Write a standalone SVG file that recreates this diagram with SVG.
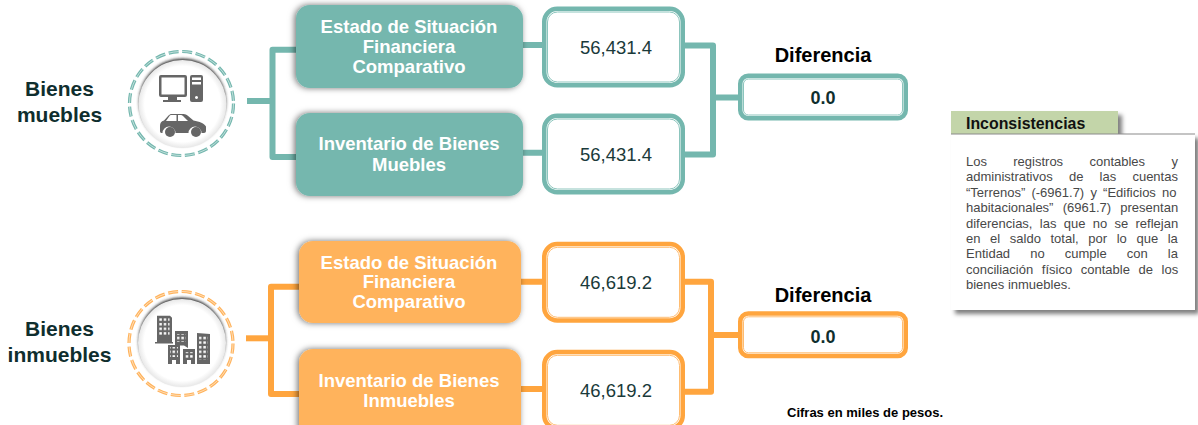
<svg xmlns="http://www.w3.org/2000/svg" width="1198" height="425" viewBox="0 0 1198 425">
<style>
text{font-family:"Liberation Sans",Arial,sans-serif}
.title{font-size:21px;font-weight:700;fill:#0f2e2e;text-anchor:middle}
.node{font-size:18.5px;font-weight:700;fill:#fff;text-anchor:middle}
.val{font-size:18.5px;fill:#1a3a3a;text-anchor:middle}
.dif{font-size:20px;font-weight:700;fill:#000;text-anchor:middle}
.zero{font-size:18px;font-weight:700;fill:#0f2e2e;text-anchor:middle}
.body{font-size:13px;fill:#484848}
.con{fill:none;stroke-width:6;stroke-linejoin:round;stroke-linecap:butt}
.t{stroke:#74b7ae}.o{stroke:#ffa53e}
.ft{fill:#74b7ae}.fo{fill:#ffb35c}
.box{fill:#fff;stroke-width:4.5}
.inner{fill:none;stroke-width:1}
.ti{stroke:#8cc5bd}.oi{stroke:#ffbc70}
.dash{fill:none;stroke-width:3.2;stroke-dasharray:10 3.63}
.dashw{fill:none;stroke:#fff;stroke-width:.7;stroke-dasharray:10 3.63;opacity:.8}
.ic{fill:#666}
</style>
<defs>
<filter id="sh" x="-10%" y="-20%" width="120%" height="140%"><feDropShadow dx="-1.5" dy="0" stdDeviation="3" flood-color="#000" flood-opacity=".55"/></filter>
<filter id="psh" x="-5%" y="-5%" width="112%" height="115%"><feDropShadow dx="4" dy="4" stdDeviation="2" flood-color="#000" flood-opacity=".5"/></filter>
<filter id="bl" x="-20%" y="-20%" width="140%" height="140%"><feGaussianBlur stdDeviation="1.5"/></filter>
<radialGradient id="disc"><stop offset="0" stop-color="#fff"/><stop offset=".86" stop-color="#fff"/><stop offset="1" stop-color="#e8e8e8"/></radialGradient>
<pattern id="win" width="4.4" height="4.6" patternUnits="userSpaceOnUse"><rect x="1" y="1" width="2.4" height="2.4" fill="#fff"/></pattern>
</defs>
<g id="connectors">
<path class="con t" d="M296 49.7H272.500V157H296"/>
<path class="con t" d="M272.500 101H247" stroke-linecap="round"/>
<path class="con t" d="M522 45H542M522 152.700H542"/>
<path class="con t" d="M685 45.500H713V154.500H685M713 97.500H738"/>
<path class="con o" d="M299 286.700H271V394H299"/>
<path class="con o" d="M271 338.300H246" stroke-linecap="round"/>
<path class="con o" d="M521 281.700H542M521 389H542"/>
<path class="con o" d="M685 281.700H711V391.700H685M711 335H738"/>
</g>
<g id="bienes-muebles"><text class="title" x="59.500" y="96">Bienes</text><text class="title" x="59.500" y="122">muebles</text></g>
<g id="icono-muebles">
<circle class="dash t" cx="181.500" cy="103.500" r="52"/><circle class="dashw" cx="181.500" cy="103.500" r="52"/>
<circle cx="182.500" cy="102" r="43.500" fill="#333" filter="url(#bl)"/>
<circle cx="182.500" cy="104" r="44" fill="url(#disc)"/>
<path class="ic" fill-rule="evenodd" d="M159 77a2 2 0 0 1 2-2h24a2 2 0 0 1 2 2v18a2 2 0 0 1-2 2h-8v3h4v2h-18v-2h5v-3h-7a2 2 0 0 1-2-2zM161.500 77.500v17h23v-17z"/>
<path class="ic" fill-rule="evenodd" d="M190 77a2 2 0 0 1 2-2h9a2 2 0 0 1 2 2v23a2 2 0 0 1-2 2h-9a2 2 0 0 1-2-2zM192 77.500v2.500h9v-2.500zM192 82v2.500h9v-2.500zM196.500 96a1.500 1.500 0 1 0 .01 0z"/>
<path class="ic" fill-rule="evenodd" d="M160 126c0-3 1-4.500 4-5.500l4.500-5c.8-.8 2-1.500 3-1.500h12c2 0 3 1 4 1.500l6 5c6 1 11 3 12.500 6v4.500c0 1-1 2-2 2h-2.500a6.500 6.500 0 0 0-13 0h-13a6.500 6.500 0 0 0-13 0h-1c-1 0-1.500-1-1.500-2zM166 121h10.500v-6h-5c-1 0-1.500.3-2 1zM178 115v6h10l-5-5c-.7-.7-1.500-1-2-1z"/>
<circle class="ic" cx="170" cy="132" r="5"/><circle class="ic" cx="196" cy="132" r="5"/>
</g>
<g id="estado-muebles"><rect class="ft" x="296" y="5" width="227" height="83" rx="14" filter="url(#sh)"/>
<text class="node" x="409" y="33">Estado de Situación</text><text class="node" x="409" y="53">Financiera</text><text class="node" x="409" y="73">Comparativo</text></g>
<g id="inventario-muebles"><rect class="ft" x="296" y="113" width="227" height="83" rx="14" filter="url(#sh)"/>
<text class="node" x="409" y="150">Inventario de Bienes</text><text class="node" x="409" y="171">Muebles</text></g>
<g id="valor-m1"><rect class="box t" x="544.250" y="8.750" width="138.500" height="76.500" rx="13"/><rect class="inner ti" x="547.500" y="12" width="132" height="70" rx="10"/><text class="val" x="616" y="54">56,431.4</text></g>
<g id="valor-m2"><rect class="box t" x="544.250" y="115.750" width="138.500" height="76.500" rx="13"/><rect class="inner ti" x="547.500" y="119" width="132" height="70" rx="10"/><text class="val" x="616" y="161">56,431.4</text></g>
<g id="diferencia-m"><text class="dif" x="823" y="62">Diferencia</text><rect class="box t" x="740.250" y="75.750" width="165.500" height="42.500" rx="8"/><rect class="inner ti" x="743.500" y="79" width="159" height="36" rx="5"/><text class="zero" x="823" y="104">0.0</text></g>

<g id="bienes-inmuebles"><text class="title" x="59.500" y="336">Bienes</text><text class="title" x="59.500" y="361.700">inmuebles</text></g>
<g id="icono-inmuebles">
<circle class="dash o" cx="181" cy="343.500" r="52" style="stroke:#ffb35c"/><circle class="dashw" cx="181" cy="343.500" r="52"/>
<circle cx="182" cy="341" r="43.500" fill="#333" filter="url(#bl)"/>
<circle cx="182" cy="343" r="44" fill="url(#disc)"/>
<g class="ic">
<path d="M157 315.700h13l2 2v24.300h1v1.500h-18v-1.500h2z"/><path d="M175 331h13v17l-4-2.500h-9z"/><path d="M197 333l13 1v30h-13z"/><path d="M168 345h12v19h-4v-4h-4v4h-4z"/><path d="M183 349h12v15h-4v-4h-4v4h-4z"/>
</g>
<rect x="158.500" y="318" width="11" height="18" fill="url(#win)"/><rect x="177" y="334" width="9" height="8" fill="url(#win)"/><rect x="199" y="336" width="9" height="24" fill="url(#win)"/><rect x="170" y="347" width="8" height="10" fill="url(#win)"/><rect x="185" y="352" width="8" height="6" fill="url(#win)"/>
</g>
<g id="estado-inmuebles"><rect class="fo" x="299" y="241" width="222" height="82" rx="14" filter="url(#sh)"/>
<text class="node" x="409" y="268.500">Estado de Situación</text><text class="node" x="409" y="288">Financiera</text><text class="node" x="409" y="308">Comparativo</text></g>
<g id="inventario-inmuebles"><rect class="fo" x="299" y="349" width="222" height="90" rx="14" filter="url(#sh)"/>
<text class="node" x="409" y="386.700">Inventario de Bienes</text><text class="node" x="409" y="406.600">Inmuebles</text></g>
<g id="valor-i1"><rect class="box o" x="544.250" y="244" width="138.500" height="76.500" rx="13"/><rect class="inner oi" x="547.500" y="247.300" width="132" height="70" rx="10"/><text class="val" x="616" y="289">46,619.2</text></g>
<g id="valor-i2"><rect class="box o" x="544.250" y="352" width="138.500" height="76.500" rx="13"/><rect class="inner oi" x="547.500" y="355.300" width="132" height="70" rx="10"/><text class="val" x="616" y="397">46,619.2</text></g>
<g id="diferencia-i"><text class="dif" x="823" y="301.600">Diferencia</text><rect class="box o" x="740.250" y="313.500" width="165.500" height="42.500" rx="8"/><rect class="inner oi" x="743.500" y="316.800" width="159" height="36" rx="5"/><text class="zero" x="823" y="342.700">0.0</text></g>
<text id="nota" x="787" y="416.700" font-size="13" font-weight="700" fill="#000">Cifras en miles de pesos.</text>

<g id="inconsistencias">
<rect x="951" y="134" width="244" height="176" fill="#fff" filter="url(#psh)"/>
<rect x="951" y="111" width="167" height="23" fill="#c3d5a9" filter="url(#psh)"/>
<rect x="951" y="134" width="244" height="176" fill="#fff"/>
<path d="M951 134H1195" stroke="#8a8a8a" stroke-width="1"/>
<text x="966" y="128.500" font-size="15.900" font-weight="700" fill="#111">Inconsistencias</text>
<text class="body" x="966" y="166" word-spacing="22.700">Los registros contables y</text>
<text class="body" x="966" y="181.400" word-spacing="12.600">administrativos de las cuentas</text>
<text class="body" x="966" y="196.800" word-spacing="2.600">“Terrenos” (-6961.7) y “Edificios no</text>
<text class="body" x="966" y="212.200" word-spacing="5.600">habitacionales” (6961.7) presentan</text>
<text class="body" x="966" y="227.600" word-spacing="3.700">diferencias, las que no se reflejan</text>
<text class="body" x="966" y="243" word-spacing="6">en el saldo total, por lo que la</text>
<text class="body" x="966" y="258.400" word-spacing="16.500">Entidad no cumple con la</text>
<text class="body" x="966" y="273.800" word-spacing="5">conciliación físico contable de los</text>
<text class="body" x="966" y="289.200">bienes inmuebles.</text>
</g>
</svg>
